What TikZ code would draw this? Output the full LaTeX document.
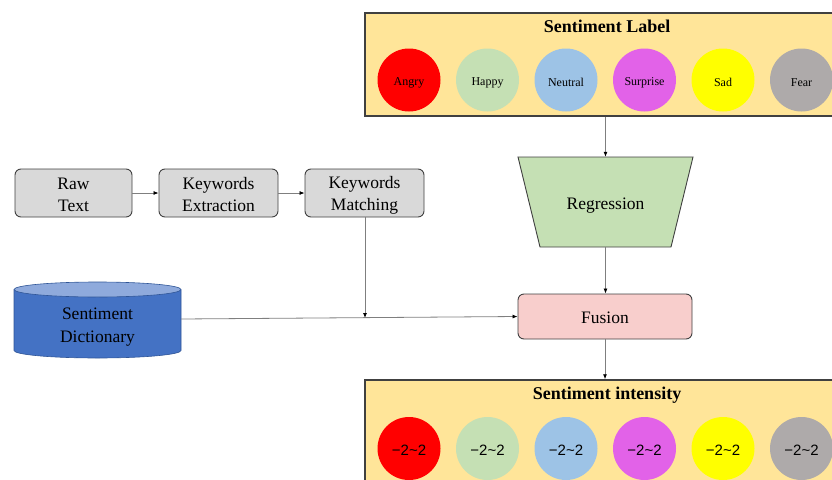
\documentclass[tikz,border=0pt]{standalone}
\usepackage{fontspec}
\setmainfont{Liberation Serif}
\newfontfamily\numfont{Liberation Sans}
\usetikzlibrary{arrows.meta,shapes.geometric,calc}
\definecolor{boxyellow}{HTML}{FFE599}
\definecolor{edgegray}{HTML}{404040}
\definecolor{procgray}{HTML}{D9D9D9}
\definecolor{fusionpink}{HTML}{F8CECC}
\definecolor{reggreen}{HTML}{C5E0B4}
\definecolor{cylbody}{HTML}{4472C4}
\definecolor{cyltop}{HTML}{8FAADC}
\definecolor{cyledge}{HTML}{2F5597}
\definecolor{cred}{HTML}{FF0000}
\definecolor{cgreen}{HTML}{C5E0B4}
\definecolor{cblue}{HTML}{9DC3E6}
\definecolor{cmag}{HTML}{E262E8}
\definecolor{cyel}{HTML}{FFFF00}
\definecolor{cgray}{HTML}{AEAAAA}
\definecolor{linegray}{HTML}{7F7F7F}
\newcommand{\lowerby}[2]{\raisebox{-#1}[\height][\depth]{#2}}
\tikzset{
  panel/.style={draw=edgegray, line width=1.5pt, fill=boxyellow, minimum width=484pt, minimum height=103pt, inner sep=0pt},
  paneltitle/.style={font=\fontsize{18}{20}\selectfont\bfseries, inner sep=0pt},
  procbox/.style={draw=edgegray, line width=0.9pt, fill=procgray, rounded corners=6pt, minimum width=117pt, minimum height=48pt, align=center, font=\fontsize{17.5}{22}\selectfont, inner sep=0pt},
  dot/.style={circle, minimum size=63pt, inner sep=0pt, font=\fontsize{12}{14}\selectfont},
  numdot/.style={circle, minimum size=63pt, inner sep=0pt, font=\numfont\fontsize{15}{16}\selectfont},
  conn/.style={draw=linegray, line width=0.8pt, -{Latex[length=5pt,width=4pt,color=black]}}
}
\begin{document}
\begin{tikzpicture}[x=1pt,y=-1pt]
\useasboundingbox (0,0) rectangle (832,479);
\clip (0,0) rectangle (832,479);
% top panel
\node[panel] (lab) at (607,64.5) {};
\node[paneltitle] (labt) at (607,26) {Sentiment Label};
\node[dot, fill=cred] (l1) at (409,80) {\lowerby{2.5pt}{Angry}};
\node[dot, fill=cgreen] (l2) at (487.5,80) {\lowerby{2.5pt}{Happy}};
\node[dot, fill=cblue] (l3) at (566,80) {\lowerby{2.5pt}{Neutral}};
\node[dot, fill=cmag] (l4) at (644.5,80) {\lowerby{2.5pt}{Surprise}};
\node[dot, fill=cyel] (l5) at (723,80) {\lowerby{2.5pt}{Sad}};
\node[dot, fill=cgray] (l6) at (801.5,80) {\lowerby{2.5pt}{Fear}};
% bottom panel
\node[panel] (int) at (607,431.5) {};
\node[paneltitle] (intt) at (607,395.5) {Sentiment intensity};
\node[numdot, fill=cred] (i1) at (409,448.5) {\lowerby{1.5pt}{−2\textasciitilde 2}};
\node[numdot, fill=cgreen] (i2) at (487.5,448.5) {\lowerby{1.5pt}{−2\textasciitilde 2}};
\node[numdot, fill=cblue] (i3) at (566,448.5) {\lowerby{1.5pt}{−2\textasciitilde 2}};
\node[numdot, fill=cmag] (i4) at (644.5,448.5) {\lowerby{1.5pt}{−2\textasciitilde 2}};
\node[numdot, fill=cyel] (i5) at (723,448.5) {\lowerby{1.5pt}{−2\textasciitilde 2}};
\node[numdot, fill=cgray] (i6) at (801.5,448.5) {\lowerby{1.5pt}{−2\textasciitilde 2}};
% pipeline
\node[procbox] (raw) at (73.5,193) {\lowerby{2pt}{Raw}\\\lowerby{2pt}{Text}};
\node[procbox, minimum width=119pt] (ext) at (218.5,193) {\lowerby{2pt}{Keywords}\\\lowerby{2pt}{Extraction}};
\node[procbox, minimum width=119pt] (mat) at (364.5,193) {\lowerby{2pt}{Keywords}\\\lowerby{2pt}{Matching}};
% regression trapezoid
\fill[reggreen] (518,157) -- (693,157) -- (671,247) -- (540,247) -- cycle;
\draw[edgegray, line width=0.9pt] (518,157) -- (693,157) -- (671,247) -- (540,247) -- cycle;
\node[minimum width=175pt, minimum height=90pt, inner sep=0pt,
      font=\fontsize{17.5}{21.5}\selectfont] (reg) at (605.5,202) {\lowerby{3.5pt}{Regression}};
% fusion
\node[procbox, fill=fusionpink, minimum width=174pt, minimum height=45pt] (fus) at (605,316.5) {\lowerby{1.5pt}{Fusion}};
% dictionary cylinder
\fill[cylbody] (14,289.5) -- (14,350.5) arc[start angle=180, end angle=0, x radius=83.5, y radius=7.5] -- (181,289.5) -- cycle;
\draw[cyledge, line width=0.6pt] (14,289.5) -- (14,350.5) arc[start angle=180, end angle=0, x radius=83.5, y radius=7.5] -- (181,289.5);
\draw[cyledge, line width=0.6pt, fill=cyltop] (97.5,289.5) ellipse[x radius=83.5, y radius=7.5];
\node[font=\fontsize{17.5}{23}\selectfont, align=center, inner sep=0pt, minimum width=167pt] (dict) at (97.5,327.5) {Sentiment\\Dictionary};
\coordinate (dictR) at (181,319);
\coordinate (junc) at (365,318);
% connectors
\draw[conn] (raw.east) -- (ext.west);
\draw[conn] (ext.east) -- (mat.west);
\draw[conn] (mat.south -| junc) -- (junc);
\draw[conn] (dictR) -- (fus.west);
\draw[conn] (lab.south -| reg.north) -- (reg.north);
\draw[conn] (reg.south) -- (reg.south |- fus.north);
\draw[conn] (fus.south) -- (fus.south |- int.north);
\end{tikzpicture}
\end{document}
